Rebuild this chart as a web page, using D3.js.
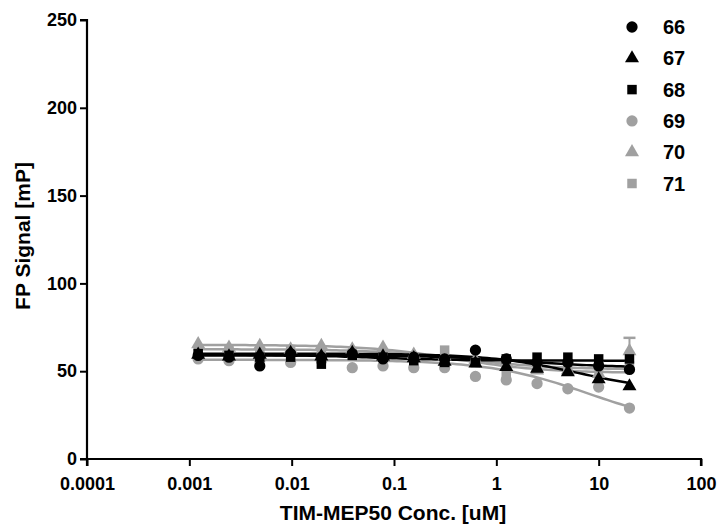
<!DOCTYPE html>
<html>
<head>
<meta charset="utf-8">
<script src="https://cdn.jsdelivr.net/npm/d3@7"></script>
<style>
  body { margin: 0; background: #fff; }
  text { font-family: Arial, "Liberation Sans", sans-serif; font-weight: bold; }
</style>
</head>
<body>
<svg width="719" height="531"></svg>
<script>
// concentrations (uM), 2-fold dilution
var conc = [0.00122, 0.00244, 0.00488, 0.00977, 0.0195, 0.0391, 0.0781, 0.156, 0.3125, 0.625, 1.25, 2.5, 5, 10, 20];

var names = ["66", "67", "68", "69", "70", "71"];
var colors = ["#000", "#000", "#000", "#a0a0a0", "#a0a0a0", "#a0a0a0"];
var shapes = ["circle", "triangle", "square", "circle", "triangle", "square"];

var s66 = [59, 58, 53, 60, 58, 60, 57, 58, 57, 62, 57, 55, 55, 53, 51];
var s67 = [60, 59, 60, 61, 59, 61, 59, 58, 56, 55, 53, 52, 50, 46, 42];
var s68 = [60, 59, 58, 58, 54, 59, 58, 56, 55, 55, 57, 58, 58, 57, 57];
var s69 = [57, 56, 56, 55, 56, 52, 53, 52, 52, 47, 45, 43, 40, 41, 29];
var s70 = [66, 64, 65, 63, 65, 63, 64, 60, 59, 57, 56, 51, 51, 49, 62];
var s71 = [62, 62, 61, 62, 60, 60, 59, 58, 62, 55, 48, 53, 53, 53, 53];
var err70 = 7;

// fitted curve params: top, bottom, logEC50, hill
var fits = [
  [59, 52, 0.3, 1],
  [60, 38, 0.8, 1],
  [59.5, 56, -1.2, 1],
  [56.5, 18, 0.9, 0.9],
  [65, 49, -0.4, 1],
  [62.5, 51, -0.3, 1]
];

var series = [s66, s67, s68, s69, s70, s71];

var yTicks = [0, 50, 100, 150, 200, 250];
var xTicks = [0.0001, 0.001, 0.01, 0.1, 1, 10, 100];
var xTickLabels = ["0.0001", "0.001", "0.01", "0.1", "1", "10", "100"];

var svg = d3.select("svg");

var x = d3.scaleLog().domain([0.0001, 100]).range([87, 701]);
var y = d3.scaleLinear().domain([0, 250]).range([459, 20]);

// axes
var yAxis = svg.append("g").attr("transform", "translate(87,0)")
  .call(d3.axisLeft(y).tickValues(yTicks).tickSize(7).tickPadding(3));
var xAxis = svg.append("g").attr("transform", "translate(0,459)")
  .call(d3.axisBottom(x).tickValues(xTicks).tickFormat(function(d, i){ return xTickLabels[i]; })
    .tickSize(7).tickPadding(11));

[yAxis, xAxis].forEach(function(g){
  g.select(".domain").attr("stroke", "#000").attr("stroke-width", 2.2);
  g.selectAll(".tick line").attr("stroke", "#000").attr("stroke-width", 2);
  g.selectAll(".tick text").attr("fill", "#000").style("font-size", "18px").style("font-weight", "bold");
});
xAxis.select(".domain").attr("d", "M87,7V0H701V7");
yAxis.select(".domain").attr("d", "M-7,20H0V459H-7");

svg.append("text").attr("x", 393).attr("y", 520).attr("text-anchor", "middle")
  .style("font-size", "21px").text("TIM-MEP50 Conc. [uM]");
svg.append("text").attr("transform", "translate(30,236) rotate(-90)").attr("text-anchor", "middle")
  .style("font-size", "21px").text("FP Signal [mP]");

// fit curves
function logistic(p, c) {
  return p[1] + (p[0] - p[1]) / (1 + Math.pow(10, (Math.log10(c) - p[2]) * p[3]));
}
var curveX = d3.range(0, 101).map(function(i){
  return Math.pow(10, Math.log10(conc[0]) + i / 100 * (Math.log10(20) - Math.log10(conc[0])));
});
var line = d3.line().x(function(d){ return x(d[0]); }).y(function(d){ return y(d[1]); });

var drawOrder = [3, 4, 5, 0, 1, 2];
drawOrder.forEach(function(k){
  svg.append("path")
    .datum(curveX.map(function(c){ return [c, logistic(fits[k], c)]; }))
    .attr("d", line).attr("fill", "none")
    .attr("stroke", colors[k]).attr("stroke-width", 2.5);
});

// error bar for 70 at top conc
var lastX = x(conc[conc.length - 1]);
var top70 = y(s70[s70.length - 1] + err70);
svg.append("line").attr("x1", lastX).attr("x2", lastX)
  .attr("y1", top70).attr("y2", y(s70[s70.length - 1]))
  .attr("stroke", "#a0a0a0").attr("stroke-width", 2);
svg.append("line").attr("x1", lastX - 6).attr("x2", lastX + 6)
  .attr("y1", top70).attr("y2", top70)
  .attr("stroke", "#a0a0a0").attr("stroke-width", 2.5);

function symbolFor(shape) {
  if (shape === "circle") return d3.symbol().type(d3.symbolCircle).size(100)();
  if (shape === "triangle") return d3.symbol().type(d3.symbolTriangle).size(85)();
  return d3.symbol().type(d3.symbolSquare).size(90)();
}

drawOrder.forEach(function(k){
  svg.append("g").selectAll("path")
    .data(series[k].map(function(v, i){ return [conc[i], v]; }))
    .enter().append("path")
    .attr("d", symbolFor(shapes[k]))
    .attr("transform", function(d){
      var dy = shapes[k] === "triangle" ? 1 : 0;
      return "translate(" + x(d[0]) + "," + (y(d[1]) + dy) + ")";
    })
    .attr("fill", colors[k]);
});

// legend
var legend = svg.append("g").selectAll("g").data(names).enter().append("g")
  .attr("transform", function(d, i){ return "translate(632," + (27 + i * 31.3) + ")"; });
legend.append("path")
  .attr("d", function(d, i){ return symbolFor(shapes[i]); })
  .attr("fill", function(d, i){ return colors[i]; });
legend.append("text").attr("x", 31).attr("y", 7).style("font-size", "20px")
  .attr("fill", "#000").text(function(d){ return d; });
</script>
</body>
</html>
